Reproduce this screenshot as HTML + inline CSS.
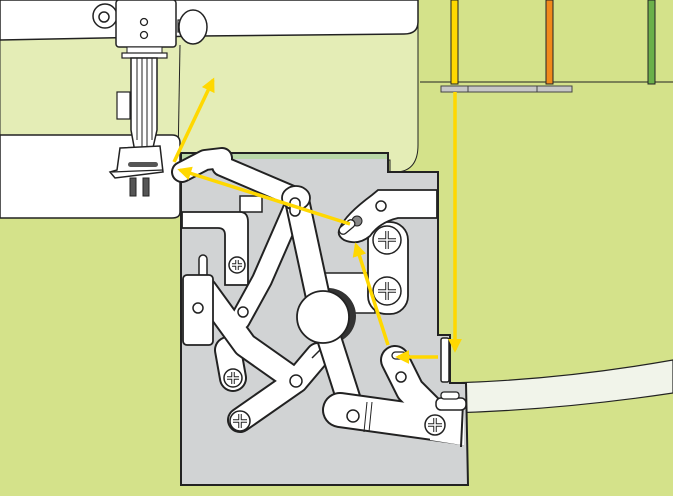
<!DOCTYPE html>
<html><head><meta charset="utf-8"><style>
html,body{margin:0;padding:0;background:#d4e28a;}
svg{display:block}
</style></head><body>
<svg width="673" height="496" viewBox="0 0 673 496" xmlns="http://www.w3.org/2000/svg">
<defs>
<marker id="ah" viewBox="0 0 10 10" refX="8" refY="5" markerWidth="4" markerHeight="4" orient="auto"><path d="M0,0 L10,5 L0,10 z" fill="#ffd800"/></marker>
<clipPath id="cr"><rect x="300" y="330" width="164" height="130"/></clipPath>
</defs>
<rect width="673" height="496" fill="#d4e28a"/>
<path d="M0,38 L200,36 L200,0 L418,0 L418,145 Q418,170 398,172 L390,172 L390,160 L0,160 z" fill="#e4edb6" stroke="#222" stroke-width="1"/>
<line x1="420" y1="82" x2="673" y2="82" stroke="#222" stroke-width="1"/>
<path d="M0,0 L418,0 L418,22 Q418,34 404,34 L200,36 L0,40 z" fill="#fff" stroke="#222" stroke-width="1.5"/>
<line x1="140" y1="40" x2="140" y2="135" stroke="#222" stroke-width="1"/>
<line x1="180" y1="45" x2="178" y2="160" stroke="#222" stroke-width="1"/>
<rect x="451" y="0" width="7" height="84" fill="#ffd800" stroke="#222" stroke-width="1"/>
<rect x="546" y="0" width="7" height="84" fill="#f08a1c" stroke="#222" stroke-width="1"/>
<rect x="648" y="0" width="7" height="84" fill="#6bb04a" stroke="#222" stroke-width="1"/>
<rect x="441" y="86" width="131" height="6" fill="#c7c7c7" stroke="#444" stroke-width="1"/>
<line x1="468" y1="86" x2="468" y2="92" stroke="#444"/><line x1="537" y1="86" x2="537" y2="92" stroke="#444"/>
<path d="M450,383 Q560,380 673,360 L673,393 Q560,410 450,413 z" fill="#f1f4ea" stroke="#222" stroke-width="1.2"/>
<path d="M0,135 L172,135 Q180,135 180,143 L180,212 Q180,218 172,218 L0,218 z" fill="#fff" stroke="#222" stroke-width="1.5"/>
<path d="M181,153 L388,153 L388,172 L438,172 L438,335 L450,335 L450,383 L466,383 L468,485 L181,485 z" fill="#d1d3d4" stroke="#222" stroke-width="2"/>
<rect x="182" y="154" width="205" height="5" fill="#b9d8a7"/>
<circle cx="105" cy="16" r="12" fill="#fff" stroke="#222" stroke-width="1.5"/><circle cx="104" cy="17" r="5" fill="none" stroke="#222" stroke-width="1.5"/>
<rect x="178" y="20" width="10" height="12" fill="#fff" stroke="#222" stroke-width="1.2"/>
<ellipse cx="193" cy="27" rx="14" ry="17" fill="#fff" stroke="#222" stroke-width="1.5"/>
<rect x="116" y="0" width="60" height="47" rx="3" fill="#fff" stroke="#222" stroke-width="1.5"/>
<circle cx="144" cy="22" r="3.5" fill="none" stroke="#222" stroke-width="1.3"/><circle cx="144" cy="35" r="3.5" fill="none" stroke="#222" stroke-width="1.3"/>
<rect x="127" y="47" width="35" height="6" fill="#fff" stroke="#222"/>
<rect x="122" y="53" width="45" height="5" fill="#fff" stroke="#222" stroke-width="1.2"/>
<rect x="117" y="92" width="13" height="27" fill="#fff" stroke="#222" stroke-width="1.2"/>
<path d="M131,58 L157,58 L157,130 L152,152 L135,152 L131,130 z" fill="#fff" stroke="#222" stroke-width="1.5"/>
<g stroke="#222" stroke-width="1"><line x1="137" y1="58" x2="137" y2="140"/><line x1="142" y1="58" x2="142" y2="150"/><line x1="147" y1="58" x2="147" y2="150"/><line x1="152" y1="58" x2="152" y2="140"/></g>
<path d="M120,148 L160,146 L163,172 L115,178 L110,172 L117,170 z" fill="#fff" stroke="#222" stroke-width="1.5"/>
<line x1="112" y1="172" x2="163" y2="170" stroke="#222" stroke-width="1.2"/>
<rect x="128" y="162" width="30" height="5" rx="2.5" fill="#555"/>
<rect x="130" y="178" width="6" height="18" fill="#555" stroke="#222"/><rect x="143" y="178" width="6" height="18" fill="#555" stroke="#222"/>
<g stroke-linecap="round" stroke-linejoin="round" fill="none">
<path d="M182,172 L205,160 L222,158 L222,166 L297,198" stroke="#222" stroke-width="22"/>
<path d="M182,172 L205,160 L222,158 L222,166 L297,198" stroke="#fff" stroke-width="18"/>
</g>
<rect x="240" y="196" width="22" height="16" fill="#fff" stroke="#222" stroke-width="1.5"/>
<path d="M182,212 L240,212 Q248,212 248,222 L248,285 L225,285 L225,235 Q225,228 218,228 L182,228 z" fill="#fff" stroke="#222" stroke-width="1.8"/>
<g stroke-linecap="round" stroke-linejoin="round" fill="none">
<path d="M228,350 L233,378" stroke="#222" stroke-width="28"/><path d="M228,350 L233,378" stroke="#fff" stroke-width="24"/>
<path d="M297,200 L262,280 L240,320" stroke="#222" stroke-width="22"/>
<path d="M205,290 L245,345 L296,381 M296,381 L240,420 M296,381 L318,355" stroke="#222" stroke-width="26"/>
<path d="M297,200 L262,280 L240,320" stroke="#fff" stroke-width="18"/>
<path d="M205,290 L245,345 L296,381 M296,381 L240,420" stroke="#fff" stroke-width="22"/>
<path d="M296,381 L318,355" stroke="#fff" stroke-width="22"/>
</g>
<rect x="199" y="255" width="8" height="25" rx="4" fill="#fff" stroke="#222" stroke-width="1.5"/>
<rect x="183" y="275" width="30" height="70" rx="4" fill="#fff" stroke="#222" stroke-width="1.8"/>
<circle cx="198" cy="308" r="5" fill="#fff" stroke="#222" stroke-width="1.5"/>
<circle cx="243" cy="312" r="5" fill="#fff" stroke="#222" stroke-width="1.5"/>
<circle cx="296" cy="381" r="6" fill="#fff" stroke="#222" stroke-width="1.5"/>
<line x1="312" y1="358" x2="320" y2="350" stroke="#222" stroke-width="1.5"/>
<rect x="325" y="273" width="50" height="40" fill="#fff" stroke="#222" stroke-width="1.5"/>
<circle cx="328" cy="316" r="28" fill="#333"/>
<g stroke-linecap="round" stroke-linejoin="round" fill="none">
<path d="M297,200 L322,316 L352,410" stroke="#222" stroke-width="26"/>
<path d="M297,200 L322,316 L352,410" stroke="#fff" stroke-width="22"/>
</g>
<ellipse cx="296" cy="198" rx="14" ry="12" fill="#fff" stroke="#222" stroke-width="1.8"/>
<rect x="290" y="198" width="10" height="18" rx="5" fill="#fff" stroke="#222" stroke-width="1.5"/>
<circle cx="323" cy="317" r="26" fill="#fff" stroke="#222" stroke-width="1.8"/>
<rect x="368" y="222" width="40" height="92" rx="18" fill="#fff" stroke="#222" stroke-width="1.8"/>
<path d="M340,228 Q345,215 372,195 L378,190 L437,190 L437,218 L398,218 Q380,222 370,236 Q358,246 344,240 Q336,235 340,228 z" fill="#fff" stroke="#222" stroke-width="1.8"/>
<circle cx="381" cy="206" r="5" fill="#fff" stroke="#222" stroke-width="1.5"/>
<circle cx="357" cy="221" r="5" fill="#888" stroke="#222"/>
<rect x="343" y="218" width="8" height="18" rx="4" transform="rotate(50 347 227)" fill="#fff" stroke="#222" stroke-width="1.3"/>
<g clip-path="url(#cr)">
<g stroke-linecap="round" stroke-linejoin="round" fill="none">
<path d="M395,360 L410,390 L440,420" stroke="#222" stroke-width="30"/>
<path d="M340,410 L470,428" stroke="#222" stroke-width="36"/>
<path d="M395,360 L410,390 L440,420" stroke="#fff" stroke-width="26"/>
<path d="M340,410 L470,428" stroke="#fff" stroke-width="32"/>
</g>
<path d="M430,405 L468,405 L468,446 L430,440 z" fill="#fff"/>
</g>
<line x1="463" y1="404" x2="461" y2="447" stroke="#222" stroke-width="2"/>
<circle cx="353" cy="416" r="6" fill="#fff" stroke="#222" stroke-width="1.5"/>
<line x1="367" y1="402" x2="364" y2="432" stroke="#222"/><line x1="372" y1="402" x2="369" y2="432" stroke="#222"/>
<circle cx="401" cy="377" r="5" fill="#fff" stroke="#222" stroke-width="1.5"/>
<rect x="392" y="352" width="14" height="7" rx="3.5" fill="#fff" stroke="#222" stroke-width="1.3"/>
<rect x="436" y="398" width="30" height="12" rx="5" fill="#fff" stroke="#222" stroke-width="1.5"/>
<rect x="441" y="392" width="18" height="7" rx="3" fill="#fff" stroke="#222" stroke-width="1.3"/>
<rect x="441" y="338" width="8" height="44" rx="2" fill="#fff" stroke="#222" stroke-width="1.5"/>
<g fill="#fff" stroke="#222" stroke-width="1.5">
<circle cx="387" cy="240" r="14"/><circle cx="387" cy="291" r="14"/>
<circle cx="237" cy="265" r="8"/><circle cx="233" cy="378" r="9"/><circle cx="240" cy="421" r="10"/><circle cx="435" cy="425" r="10"/>
</g>
<g stroke="#222" stroke-width="3.5" stroke-linecap="butt">
<path d="M387,231 V249 M378,240 H396 M387,282 V300 M378,291 H396"/>
<path d="M237,260 V270 M232,265 H242 M233,372 V384 M227,378 H239 M240,414 V428 M233,421 H247 M435,418 V432 M428,425 H442"/>
</g>
<g stroke="#fff" stroke-width="1.5">
<path d="M387,231 V249 M378,240 H396 M387,282 V300 M378,291 H396"/>
<path d="M237,260 V270 M232,265 H242 M233,372 V384 M227,378 H239 M240,414 V428 M233,421 H247 M435,418 V432 M428,425 H442"/>
</g>
<g stroke="#ffd800" stroke-width="3.5" fill="none">
<line x1="455" y1="92" x2="455" y2="350" marker-end="url(#ah)"/>
<line x1="174" y1="162" x2="213" y2="80" marker-end="url(#ah)"/>
<line x1="350" y1="224" x2="180" y2="170" marker-end="url(#ah)"/>
<line x1="388" y1="345" x2="356" y2="245" marker-end="url(#ah)"/>
<line x1="438" y1="357" x2="398" y2="357" marker-end="url(#ah)"/>
</g>
</svg>
</body></html>
